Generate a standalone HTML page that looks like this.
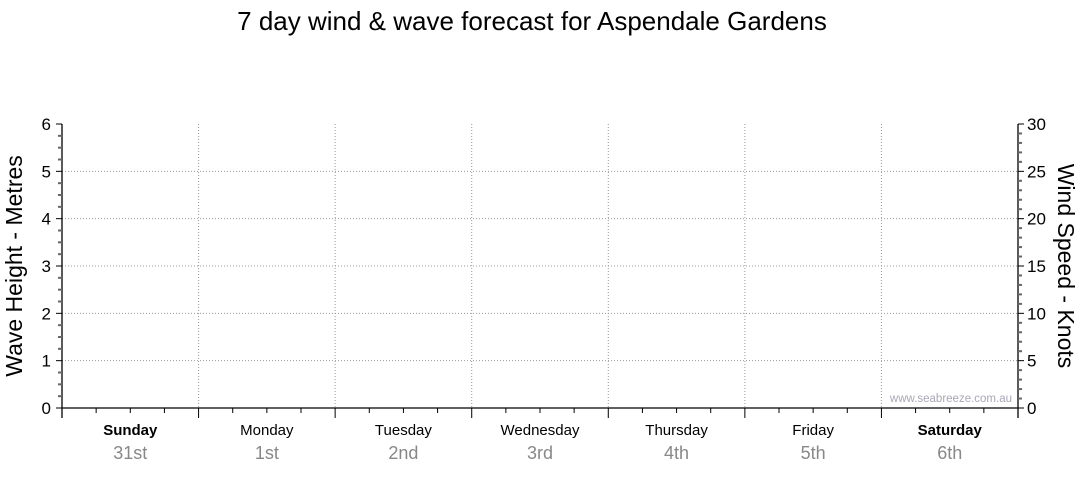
<!DOCTYPE html>
<html><head><meta charset="utf-8"><style>
body{margin:0;background:#fff;font-family:"Liberation Sans",sans-serif}
</style></head><body>
<svg width="1080" height="475" xmlns="http://www.w3.org/2000/svg" font-family="Liberation Sans, sans-serif">
<text x="532" y="30" font-size="26" text-anchor="middle">7 day wind &amp; wave forecast for Aspendale Gardens</text>
<text transform="translate(22,266) rotate(-90)" font-size="23" text-anchor="middle">Wave Height - Metres</text>
<text transform="translate(1058,266) rotate(90)" font-size="23" text-anchor="middle">Wind Speed - Knots</text>
<text x="1012" y="402" font-size="11.5" fill="#a8a8b8" text-anchor="end">www.seabreeze.com.au</text>
<g id="g"></g>
</svg>
<script>
const days=["Sunday","Monday","Tuesday","Wednesday","Thursday","Friday","Saturday"];
const dates=["31st","1st","2nd","3rd","4th","5th","6th"];
const boldDays=[true,false,false,false,false,false,true];
const waveTicks=[0,1,2,3,4,5,6];
const windTicks=[0,5,10,15,20,25,30];
const X0=62,X1=1018,Y0=408,Y1=124;
const g=document.getElementById('g');
const NS="http://www.w3.org/2000/svg";
function mk(t,a,txt){const e=document.createElementNS(NS,t);for(const k in a)e.setAttribute(k,a[k]);if(txt!==undefined)e.textContent=txt;g.appendChild(e);return e;}
const yW=v=>Y0-(v/6)*(Y0-Y1);
const yK=v=>Y0-(v/30)*(Y0-Y1);
const dw=(X1-X0)/days.length;
const xD=i=>X0+i*dw;
waveTicks.forEach(v=>{if(v>0&&v<6){const l=mk('line',{x1:X0,x2:X1,y1:yW(v),y2:yW(v),stroke:'#999','stroke-dasharray':'1,2'});

}});
days.forEach((d,i)=>{
 if(i>0){const l=mk('line',{x1:xD(i),x2:xD(i),y1:Y1,y2:Y0,stroke:'#999','stroke-dasharray':'1,2'});
 
 }
 for(let q=0;q<4;q++){const x=xD(i)+q*dw/4;const t=mk('line',{x1:x,x2:x,y1:Y0,y2:Y0+(q==0?10:5),stroke:'#000'});
 
 }
 const a=mk('text',{x:xD(i)+dw/2,y:435,'font-size':15,'text-anchor':'middle','font-weight':boldDays[i]?'bold':'normal'},d);
 
 
 const b=mk('text',{x:xD(i)+dw/2,y:459,'font-size':18,'text-anchor':'middle',fill:'#888'},dates[i]);
 
 
});
[[X0,Y1,X0,Y0+10],[X1,Y1,X1,Y0+10],[X0,Y0,X1,Y0]].forEach(c=>{const l=mk('line',{x1:c[0],y1:c[1],x2:c[2],y2:c[3],stroke:'#000','stroke-width':1.3});

});
for(let v=0;v<=24;v++){const y=Y0-v*(Y0-Y1)/24;const t=mk('line',{x1:X0-(v%4==0?6:4),x2:X0,y1:y,y2:y,stroke:v%4==0?'#000':'#666','stroke-width':v%4==0?1:2});

}
for(let v=0;v<=30;v++){const y=yK(v);const t=mk('line',{x1:X1,x2:X1+(v%5==0?6:4),y1:y,y2:y,stroke:v%5==0?'#000':'#666','stroke-width':v%5==0?1:2});

}
waveTicks.forEach(v=>{const t=mk('text',{x:51,y:yW(v)+6,'font-size':17,'text-anchor':'end'},v);

});
windTicks.forEach(v=>{const t=mk('text',{x:1027,y:yK(v)+6,'font-size':17},v);

});
</script>
</body></html>
